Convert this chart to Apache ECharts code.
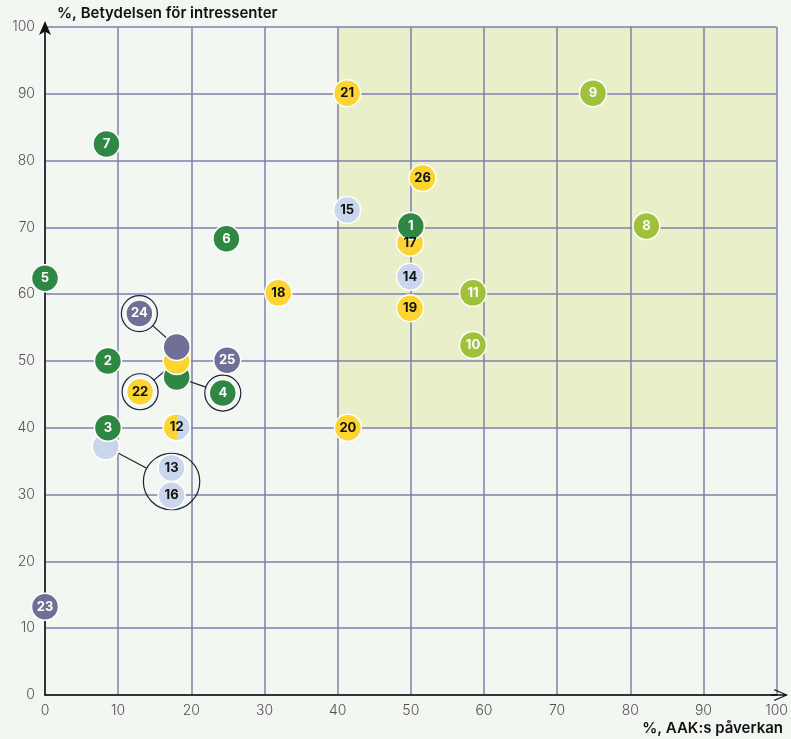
<!DOCTYPE html>
<html>
<head>
<meta charset="utf-8">
<script src="https://cdn.jsdelivr.net/npm/echarts@6/dist/echarts.min.js"></script>
<style>
  html, body { margin: 0; padding: 0; background: #f3f7f1; }
  #chart { width: 791px; height: 739px; }
</style>
</head>
<body>
<div id="chart"></div>
<script>
// topics of the materiality matrix
var ids = ['1','2','3','4','5','6','7','8','9','10','11','12','13','14','15','16','17','18','19','20','21','22','23','24','25','26'];
var impact = [50, 8.6, 8.6, 18, 0, 24.8, 8.4, 82.2, 74.9, 58.5, 58.5, 18, 8.3, 49.9, 41.3, 8.3, 49.9, 31.9, 49.9, 41.4, 41.3, 18, 0, 18, 24.9, 51.6];
var importance = [70.2, 50, 40, 47.6, 62.4, 68.3, 82.5, 70.2, 90.1, 52.4, 60.2, 40.1, 37.2, 62.6, 72.6, 37.2, 67.7, 60.2, 57.9, 40, 90.1, 50, 13.2, 52.1, 50.1, 77.4];
var groups = ['dg','dg','dg','dg','dg','dg','dg','lg','lg','lg','lg','split','lb','lb','lb','lb','ye','ye','ye','ye','ye','ye','pu','pu','pu','ye'];
// drawn first so that neighbours cover them
var underneath = ['13', '16', '17'];

// labels moved out of the crowd, with rings pointing back
var calloutIds = ['4', '22', '24', '13', '16'];
var calloutX = [24.3, 13.0, 12.9, 17.3, 17.3];
var calloutY = [45.2, 45.4, 57.1, 34.0, 29.9];
var rings = [['4'], ['22'], ['24'], ['13', '16']];

// highlighted zone
var zoneFrom = [40, 40];
var zoneTo = [100, 100];

var fill = { dg: '#2e8843', lg: '#9ec23a', ye: '#fdd432', lb: '#c9d6ec', pu: '#6f7096' };
var ink = { dg: '#fff', lg: '#fff', ye: '#111', lb: '#111', pu: '#fff', split: '#111' };
fill.split = new echarts.graphic.LinearGradient(0, 0, 1, 0, [
  { offset: 0, color: fill.ye }, { offset: 0.5, color: fill.ye },
  { offset: 0.5, color: fill.lb }, { offset: 1, color: fill.lb }
]);

var font = 'Inter, "Noto Sans", sans-serif';

function idx(id) { return ids.indexOf(id); }

var order = ids.slice().sort(function (a, b) {
  return (underneath.indexOf(b) >= 0) - (underneath.indexOf(a) >= 0);
});

var pointData = order.map(function (id) {
  var i = idx(id);
  var g = groups[i];
  return {
    name: id,
    value: [impact[i], importance[i]],
    itemStyle: { color: fill[g] },
    label: { show: calloutIds.indexOf(id) < 0, color: ink[g] }
  };
});

var calloutData = calloutIds.map(function (id, k) {
  var g = groups[idx(id)];
  return {
    name: id,
    value: [calloutX[k], calloutY[k]],
    itemStyle: { color: fill[g] },
    label: { color: ink[g] }
  };
});

var ringData = rings.map(function (members, r) {
  var i = idx(members[0]);
  return [impact[i], importance[i], r];
});

// open chevron with a stem, pointing up before ECharts turns it along the axis
var chevron = 'path://M0,14 L6,0 L12,14 L10.7,14 L6,2.6 L1.3,14 Z M5.2,1 L6.8,1 L6.8,17 L5.2,17 Z';

var chart = echarts.init(document.getElementById('chart'));

chart.setOption({
  backgroundColor: '#f3f7f1',
  animation: false,
  grid: { left: 45, right: 13, top: 27, bottom: 44 },
  graphic: [
    { type: 'text', left: 57, top: 6, style: { text: '%, Betydelsen för intressenter', font: '600 15px ' + font, fill: '#111' } },
    { type: 'text', right: 8, top: 721, style: { text: '%, AAK:s påverkan', font: '600 15px ' + font, fill: '#111' } }
  ],
  xAxis: {
    type: 'value', min: 0, max: 100, interval: 10, z: 3,
    axisLine: {
      show: true, lineStyle: { color: '#111', width: 1.5 },
      symbol: ['none', chevron],
      symbolSize: [12, 17], symbolOffset: [0, 3]
    },
    axisTick: { show: false },
    axisLabel: { fontSize: 14, color: '#505050', margin: 9, fontFamily: font, fontWeight: 300 },
    splitLine: { show: true, lineStyle: { color: '#8081aa', width: 1.5 } }
  },
  yAxis: {
    type: 'value', min: 0, max: 100, interval: 10, z: 3,
    axisLine: {
      show: true, lineStyle: { color: '#111', width: 1.5 },
      symbol: ['none', 'arrow'], symbolSize: [9, 14], symbolOffset: [0, 6]
    },
    axisTick: { show: false },
    axisLabel: { fontSize: 14, color: '#505050', margin: 10, fontFamily: font, fontWeight: 300 },
    splitLine: { show: true, lineStyle: { color: '#8081aa', width: 1.5 } }
  },
  series: [
    {
      type: 'scatter', data: [], z: 1, silent: true,
      markArea: {
        silent: true,
        itemStyle: { color: '#e9efc9' },
        data: [[{ xAxis: zoneFrom[0], yAxis: zoneFrom[1] }, { xAxis: zoneTo[0], yAxis: zoneTo[1] }]]
      }
    },
    {
      type: 'custom', z: 4, silent: true,
      data: ringData,
      encode: { x: 0, y: 1 },
      renderItem: function (params, api) {
        var src = api.coord([api.value(0), api.value(1)]);
        var members = rings[api.value(2)];
        var pts = members.map(function (id) {
          var k = calloutIds.indexOf(id);
          return api.coord([calloutX[k], calloutY[k]]);
        });
        var cx = 0, cy = 0;
        pts.forEach(function (p) { cx += p[0] / pts.length; cy += p[1] / pts.length; });
        var spread = 0;
        pts.forEach(function (p) { spread = Math.max(spread, Math.hypot(p[0] - cx, p[1] - cy)); });
        var rad = Math.max(18, spread + 14.5);
        var dx = src[0] - cx, dy = src[1] - cy, d = Math.hypot(dx, dy);
        var ex = cx + rad * dx / d, ey = cy + rad * dy / d;
        return {
          type: 'group',
          children: [
            { type: 'line', shape: { x1: src[0], y1: src[1], x2: ex, y2: ey }, style: { stroke: '#1e1f3a', lineWidth: 1.2 } },
            { type: 'circle', shape: { cx: cx, cy: cy, r: rad }, style: { fill: null, stroke: '#1e1f3a', lineWidth: 1.2 } }
          ]
        };
      }
    },
    {
      type: 'scatter', z: 5,
      symbolSize: 27,
      itemStyle: { borderColor: '#fff', borderWidth: 1.5, opacity: 1 },
      label: { show: true, position: 'inside', formatter: '{b}', fontSize: 13, fontWeight: 'bold', fontFamily: font },
      data: pointData
    },
    {
      type: 'scatter', z: 6,
      symbolSize: 27,
      itemStyle: { borderColor: '#fff', borderWidth: 1.5, opacity: 1 },
      label: { show: true, position: 'inside', formatter: '{b}', fontSize: 13, fontWeight: 'bold', fontFamily: font },
      data: calloutData
    }
  ]
});
</script>
</body>
</html>
